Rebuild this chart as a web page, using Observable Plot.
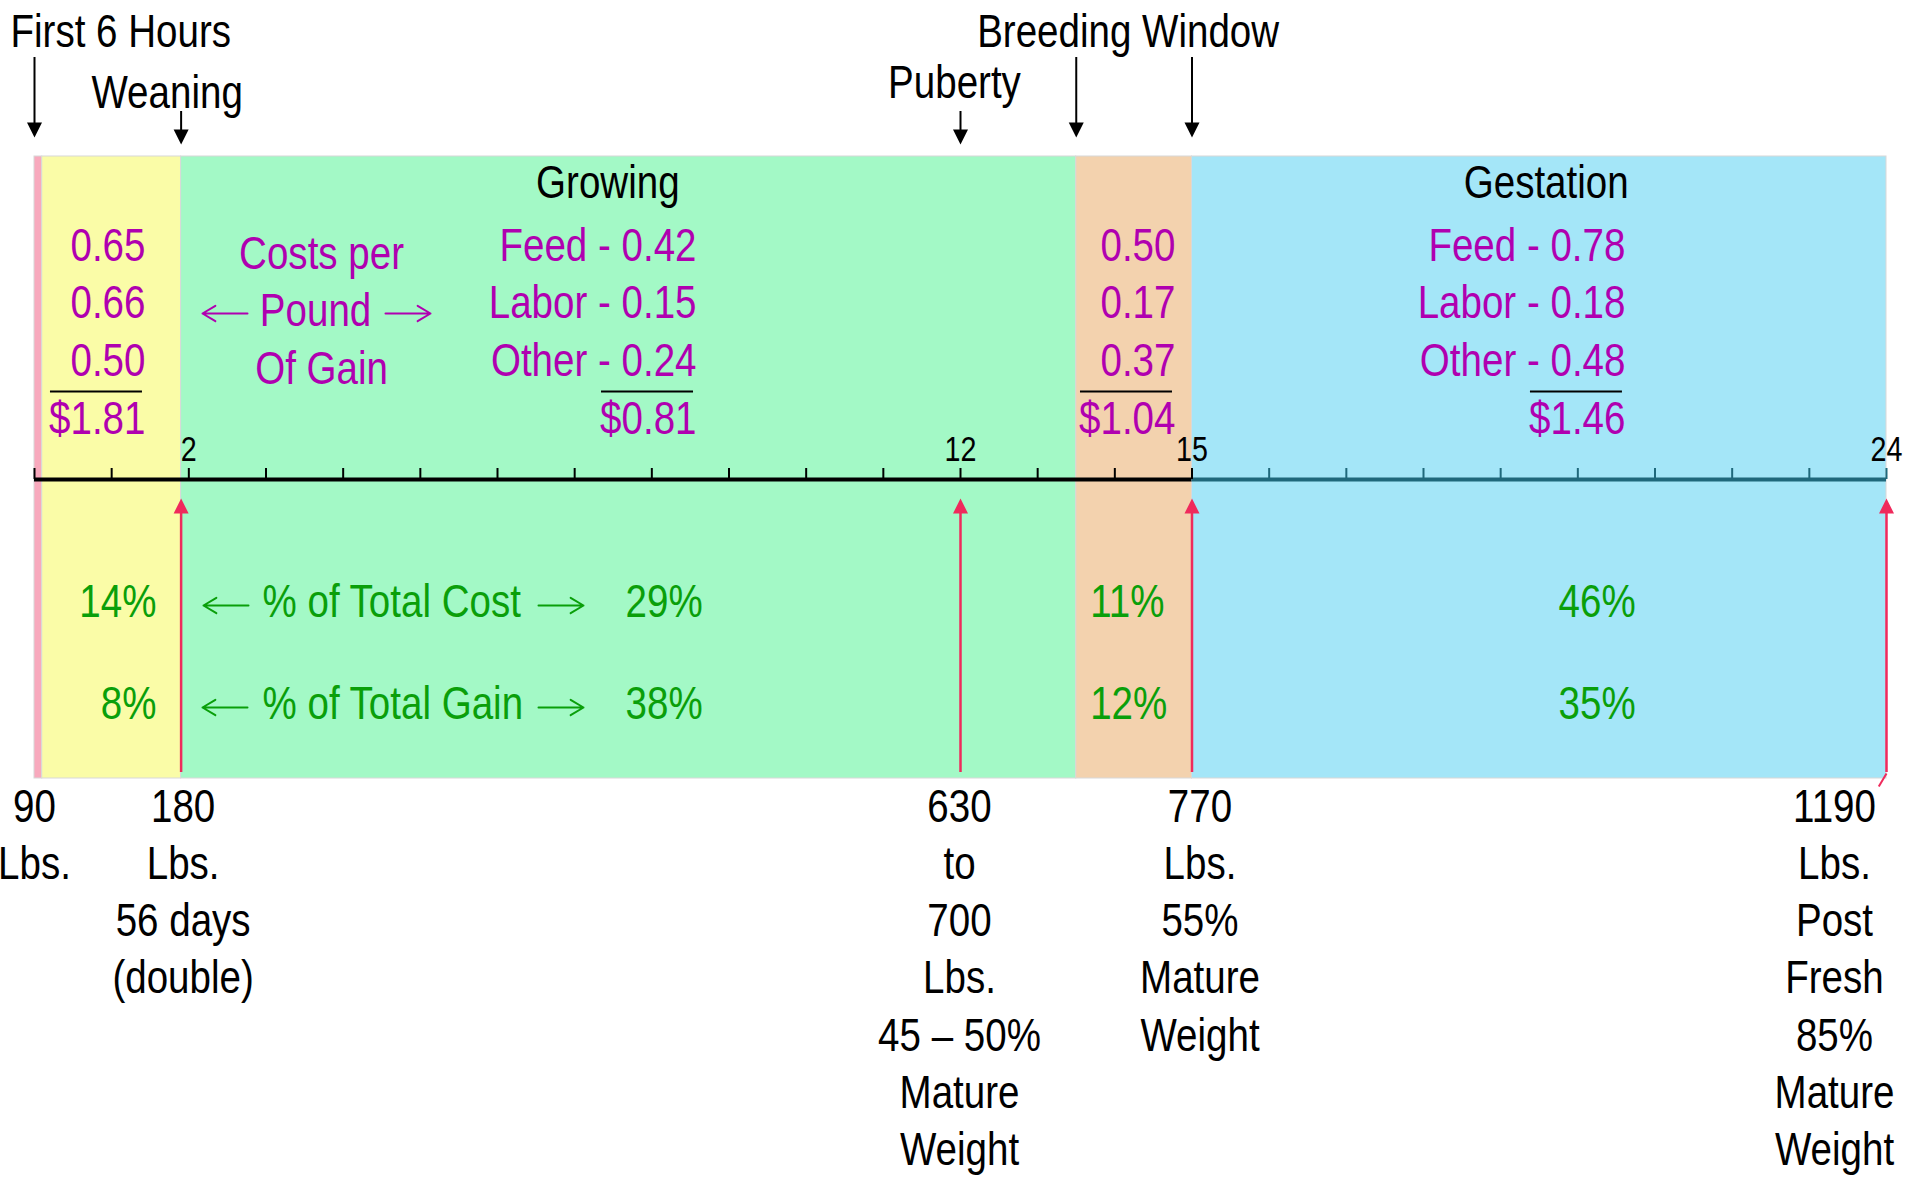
<!DOCTYPE html>
<html>
<head>
<meta charset="utf-8">
<title>Heifer development: costs and gains from birth to calving</title>
<script src="https://cdn.jsdelivr.net/npm/d3@7"></script>
<script src="https://cdn.jsdelivr.net/npm/@observablehq/plot@0.6"></script>
<style>
  html, body { margin: 0; padding: 0; background: #ffffff; }
  #chart svg { display: block; }
</style>
</head>
<body>
<div id="chart"></div>
<script>
// ---------------------------------------------------------------- data

// Development phases along heifer age (months)
const phaseNames = ["Colostrum", "Pre-weaning", "Growing", "Breeding", "Gestation"];
const phaseStart = [0, 0.1, 1.9, 13.5, 15];
const phaseEnd   = [0.1, 1.9, 13.5, 15, 24];

// Phase titles written inside the bar
const phaseTitles = ["Growing", "Gestation"];

// Milestones flagged above the bar, with the ages they point at
const milestoneNames  = ["First 6 Hours", "Weaning", "Puberty", "Breeding Window"];
const milestoneMonths = [[0], [1.9], [12], [13.5, 15]];

// Costs per pound of gain ($): pre-weaning, growing, breeding, gestation
const costItems     = ["Feed", "Labor", "Other"];
const costPreWean   = [0.65, 0.66, 0.50];
const costGrowing   = [0.42, 0.15, 0.24];
const costBreeding  = [0.50, 0.17, 0.37];
const costGestation = [0.78, 0.18, 0.48];
const costTotal     = [1.81, 0.81, 1.04, 1.46];
const costNote      = ["Costs per", "Pound", "Of Gain"];

// Share of total cost and of total gain by phase (%)
const shareNames = ["% of Total Cost", "% of Total Gain"];
const shareCost  = [14, 29, 11, 46];
const shareGain  = [8, 38, 12, 35];

// Body weight notes at key ages
const weightMonths = [0, 1.9, 12, 15, 24];
const weightNotes = [
  ["90", "Lbs."],
  ["180", "Lbs.", "56 days", "(double)"],
  ["630", "to", "700", "Lbs.", "45 \u2013 50%", "Mature", "Weight"],
  ["770", "Lbs.", "55%", "Mature", "Weight"],
  ["1190", "Lbs.", "Post", "Fresh", "85%", "Mature", "Weight"]
];

// Age axis (months)
const ageTicks = [0, 1, 2, 3, 4, 5, 6, 7, 8, 9, 10, 11, 12, 13, 14, 15, 16, 17, 18, 19, 20, 21, 22, 23, 24];
const ageTickLabels = [2, 12, 15, 24];

// -------------------------------------------------------------- layout & style

const W = 1907, H = 1178;
const X_RANGE = [34, 1886];                       // pixel span of months 0..24
const atPx = px => (px - X_RANGE[0]) / (X_RANGE[1] - X_RANGE[0]) * 24;

const FONT = "'Liberation Sans', Arial, sans-serif";
const NARROW = 0.82;                 // horizontal squeeze for a condensed face
const FS = 47;                       // main text size
const TICK_FS = 35;                  // axis label size

const phaseFill = ["#f8a9bd", "#fafca7", "#a3f9c6", "#f3d2ae", "#a4e6f8"];
const MAGENTA = "#b000b0", GREEN = "#0a9f0a", RED = "#ef2a5c", TEAL = "#1f687b";

const BAR_TOP = 156, BAR_BOTTOM = 778;
const AXIS_Y = 479, TICK_LEN = 11, TICK_LABEL_Y = 460;

const TITLE_X = [7.43, 19.59], TITLE_Y = 197;

const COST_COL_X = [1.438, 8.579, 14.786, 20.617];   // right edge of each cost column
const COST_ROW_Y = [260, 317, 375, 433];
const COST_RULE_Y = 391, COST_RULE_W = 92, COST_RULE_GAP = 3;
const NOTE_X = 3.72, NOTE_Y = [268, 325, 383], NOTE_DX = [0, -6, 0];

const SHARE_ROW_Y = [616, 718];
const SHARE_X = [1.58, 7.66, 13.68, 19.75];
const SHARE_NAME_X = atPx(262);

// double-headed "from here / to there" arrows flanking the row captions
const captionArrows = [
  {from: 247, to: 202, y: 313, color: MAGENTA},
  {from: 385, to: 430, y: 313, color: MAGENTA},
  {from: 248, to: 203, y: 605, color: GREEN},
  {from: 538, to: 583, y: 605, color: GREEN},
  {from: 247, to: 202, y: 707, color: GREEN},
  {from: 538, to: 583, y: 707, color: GREEN}
];

const MILESTONE_Y = [46, 107, 97, 46];
const MILESTONE_DX = [-24, -14, -6, -6];
const MILESTONE_ANCHOR = ["start", "middle", "middle", "middle"];
const MILESTONE_TIER = [0, 1, 1, 0];
const ARROW_TOP = [57, 111], ARROW_TIP = [137, 144], HEAD = 15;

const RED_TIP = 498, RED_BASE = 772;

const WEIGHT_Y0 = 821, LINE_STEP = 57.3;
const WEIGHT_DX = [0, 2, -1, 8, -52];

// Filled arrowheads, tip at the anchor point
const headDown = {draw(ctx, size) {
  const r = Math.sqrt(size / Math.PI);
  ctx.moveTo(0, 0); ctx.lineTo(-r / 2, -r); ctx.lineTo(r / 2, -r); ctx.closePath();
}};
const headUp = {draw(ctx, size) {
  const r = Math.sqrt(size / Math.PI);
  ctx.moveTo(0, 0); ctx.lineTo(-r / 2, r); ctx.lineTo(r / 2, r); ctx.closePath();
}};

// -------------------------------------------------------------- derived tables

const phases = phaseNames.map((name, i) => ({name, start: phaseStart[i], end: phaseEnd[i], fill: phaseFill[i]}));
const gestationStart = phaseStart[4];
const axisSegments = [
  {from: 0, to: gestationStart, color: "black"},
  {from: gestationStart, to: 24, color: TEAL}
];

const milestoneArrows = milestoneNames.flatMap((name, i) =>
  milestoneMonths[i].map(month => ({name, month, tier: MILESTONE_TIER[i]})));

const costSets = [costPreWean, costGrowing, costBreeding, costGestation];
const costCells = costSets.flatMap((values, c) => [
  ...values.map((v, j) => ({
    col: c, row: j,
    text: (c === 1 || c === 3) ? `${costItems[j]} - ${v.toFixed(2)}` : v.toFixed(2)
  })),
  {col: c, row: 3, text: `$${costTotal[c].toFixed(2)}`}
]);

const shareCells = [shareCost, shareGain].flatMap((values, r) =>
  values.map((v, k) => ({row: r, phase: k, text: `${v}%`})));

const redArrows = weightMonths.filter(m => m > 0);

// -------------------------------------------------------------- marks

const textBase = {fontFamily: FONT, fontSize: FS, lineAnchor: "bottom"};

const marks = [
  // phase bands
  Plot.rect(phases, {x1: "start", x2: "end", y1: BAR_TOP, y2: BAR_BOTTOM, fill: d => d.fill, stroke: "#d8d8d8", strokeWidth: 1}),

  // age axis
  Plot.ruleY(axisSegments, {x1: "from", x2: "to", y: AXIS_Y, stroke: d => d.color, strokeWidth: 4}),
  Plot.ruleX(ageTicks, {x: d => d, y1: AXIS_Y - TICK_LEN, y2: AXIS_Y, stroke: d => d > gestationStart ? TEAL : "black", strokeWidth: 2}),
  Plot.text(ageTickLabels, {x: d => d, y: TICK_LABEL_Y, text: d => String(d), fontFamily: FONT, fontSize: TICK_FS, lineAnchor: "bottom", fill: "black"}),

  // milestone arrows above the bar
  Plot.ruleX(milestoneArrows, {x: "month", y1: d => ARROW_TOP[d.tier], y2: d => ARROW_TIP[d.tier] - HEAD + 2, stroke: "black", strokeWidth: 2}),
  Plot.dot(milestoneArrows, {x: "month", y: d => ARROW_TIP[d.tier], symbol: headDown, r: HEAD, fill: "black", stroke: "none"}),
  ...milestoneNames.map((name, i) =>
    Plot.text([{name, month: d3.mean(milestoneMonths[i])}], {
      ...textBase, x: "month", y: MILESTONE_Y[i], text: "name",
      dx: MILESTONE_DX[i], textAnchor: MILESTONE_ANCHOR[i], fill: "black"
    })),

  // phase titles
  Plot.text(phaseTitles, {...textBase, x: (d, i) => TITLE_X[i], y: TITLE_Y, text: d => d, fill: "black"}),

  // costs per pound of gain
  Plot.text(costCells, {...textBase, x: d => COST_COL_X[d.col], y: d => COST_ROW_Y[d.row], text: "text", textAnchor: "end", fill: MAGENTA}),
  Plot.ruleY(COST_COL_X, {
    y: COST_RULE_Y, x1: d => d, x2: d => d,
    insetLeft: -(COST_RULE_W + COST_RULE_GAP), insetRight: COST_RULE_GAP,
    stroke: "black", strokeWidth: 2
  }),
  ...costNote.map((line, i) =>
    Plot.text([line], {...textBase, x: NOTE_X, y: NOTE_Y[i], text: d => d, dx: NOTE_DX[i], fill: MAGENTA})),

  // share of total cost / gain
  Plot.text(shareNames, {...textBase, x: SHARE_NAME_X, y: (d, i) => SHARE_ROW_Y[i], text: d => d, textAnchor: "start", fill: GREEN}),
  Plot.text(shareCells.filter(d => d.phase === 0), {...textBase, x: d => SHARE_X[d.phase], y: d => SHARE_ROW_Y[d.row], text: "text", textAnchor: "end", fill: GREEN}),
  Plot.text(shareCells.filter(d => d.phase > 0), {...textBase, x: d => SHARE_X[d.phase], y: d => SHARE_ROW_Y[d.row], text: "text", textAnchor: "start", fill: GREEN}),

  // caption arrows
  Plot.arrow(captionArrows, {
    x1: d => atPx(d.from), x2: d => atPx(d.to), y1: "y", y2: "y",
    stroke: d => d.color, strokeWidth: 2, headLength: 13, headAngle: 62
  }),

  // weight arrows rising to the axis
  Plot.ruleX(redArrows, {x: d => d, y1: RED_TIP + HEAD - 2, y2: RED_BASE, stroke: RED, strokeWidth: 2.5}),
  Plot.dot(redArrows, {x: d => d, y: RED_TIP, symbol: headUp, r: HEAD, fill: RED, stroke: "none"}),
  Plot.link(redArrows.filter(d => d === 24), {x1: d => d, x2: d => d - 0.1, y1: RED_BASE + 1, y2: RED_BASE + 14, stroke: RED, strokeWidth: 2}),

  // weight notes under the bar
  ...weightNotes.map((lines, i) =>
    Plot.text(lines.map((t, j) => ({t, j})), {
      ...textBase, x: () => weightMonths[i], y: d => WEIGHT_Y0 + d.j * LINE_STEP,
      text: "t", dx: WEIGHT_DX[i], fill: "black"
    }))
];

const chart = Plot.plot({
  width: W,
  height: H,
  margin: 0,
  x: {domain: [0, 24], range: X_RANGE, axis: null},
  y: {domain: [0, H], range: [0, H], axis: null},
  color: {type: "identity"},
  style: {fontFamily: FONT, background: "#ffffff", overflow: "visible"},
  marks
});

// condense every label about its own anchor point
d3.select(chart).selectAll("text").each(function () {
  const t = this.getAttribute("transform") || "";
  this.setAttribute("transform", `${t} scale(${NARROW},1)`);
});

document.getElementById("chart").append(chart);
</script>
</body>
</html>
